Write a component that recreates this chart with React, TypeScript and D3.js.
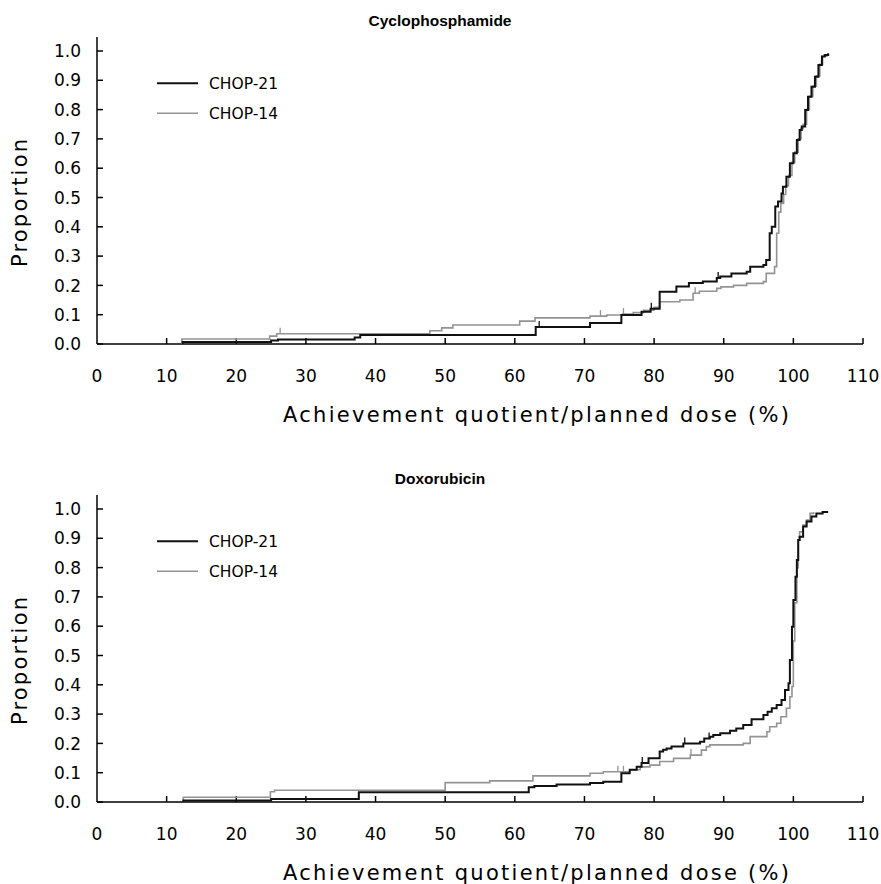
import React from "react";
import * as d3 from "d3";

// ---- Data ----
const xTicks = [0, 10, 20, 30, 40, 50, 60, 70, 80, 90, 100, 110];
const yTicks = [0, 0.1, 0.2, 0.3, 0.4, 0.5, 0.6, 0.7, 0.8, 0.9, 1.0];
const seriesNames = ["CHOP-21", "CHOP-14"];
const panelTitles = ["Cyclophosphamide", "Doxorubicin"];

// Cyclophosphamide, CHOP-21 (black)
const cyc21X = [12.3, 25, 26, 37, 37.8, 63, 70.8, 75.3, 78.2, 79.5, 80.8, 83.2, 85, 87, 89, 89.5, 91.1, 93.3, 93.8, 95.7, 96.1, 96.6, 96.9, 97.4, 97.8, 98.3, 98.5, 99.0, 99.5, 100.0, 100.5, 100.9, 101.2, 101.7, 102.1, 102.6, 103.1, 103.6, 104.1, 104.5, 105.0];
const cyc21Y = [0.007, 0.012, 0.015, 0.022, 0.031, 0.058, 0.072, 0.099, 0.11, 0.12, 0.178, 0.196, 0.208, 0.213, 0.225, 0.23, 0.241, 0.247, 0.264, 0.27, 0.287, 0.378, 0.4, 0.469, 0.486, 0.514, 0.537, 0.571, 0.617, 0.651, 0.696, 0.73, 0.742, 0.799, 0.844, 0.878, 0.912, 0.952, 0.981, 0.986, 0.992];
const cyc21Censor = [63.5, 79.6, 89.2];

// Cyclophosphamide, CHOP-14 (grey)
const cyc14X = [12.2, 24.8, 25.8, 47.8, 49.5, 51.1, 60.7, 62.9, 70.8, 73.2, 75.5, 77, 78.5, 80, 80.8, 83.7, 85.6, 86.5, 89, 89.6, 91.4, 93.3, 95.7, 96.1, 97.3, 97.6, 97.9, 98.2, 98.6, 98.9, 99.3, 99.8, 100.2, 100.7, 101.1, 101.4, 101.9, 102.3, 102.8, 103.3, 103.8, 104.2, 104.8];
const cyc14Y = [0.017, 0.027, 0.035, 0.045, 0.055, 0.065, 0.078, 0.089, 0.095, 0.099, 0.102, 0.107, 0.115, 0.125, 0.144, 0.15, 0.173, 0.18, 0.19, 0.195, 0.2, 0.207, 0.213, 0.241, 0.264, 0.378, 0.45, 0.48, 0.51, 0.54, 0.575, 0.62, 0.655, 0.7, 0.735, 0.75, 0.8, 0.845, 0.88, 0.915, 0.955, 0.982, 0.99];
const cyc14Censor = [26.3, 72.3, 75.6, 85.9];

// Doxorubicin, CHOP-21 (black)
const dox21X = [12.4, 25, 37.6, 62, 62.8, 66, 70.8, 72.7, 75.3, 76.5, 77.5, 78.2, 79.2, 80.8, 81.3, 81.8, 82.5, 84.2, 86.6, 87.2, 88, 88.5, 89.5, 90.9, 91.8, 92.8, 94, 95.7, 96.3, 96.9, 97.6, 98.3, 98.8, 99.3, 99.5, 99.8, 100.0, 100.3, 100.5, 100.7, 100.9, 101.4, 101.9, 102.6, 103.3, 104.2, 105];
const dox21Y = [0.005, 0.01, 0.033, 0.05, 0.055, 0.06, 0.065, 0.069, 0.098, 0.11, 0.12, 0.133, 0.149, 0.172, 0.178, 0.183, 0.189, 0.2, 0.206, 0.217, 0.223, 0.229, 0.235, 0.243, 0.251, 0.263, 0.282, 0.297, 0.308, 0.32, 0.331, 0.348, 0.382, 0.405, 0.485, 0.598, 0.689, 0.769, 0.826, 0.894, 0.905, 0.94, 0.957, 0.974, 0.985, 0.99, 0.99];
const dox21Censor = [78.3, 84.4, 87.9];

// Doxorubicin, CHOP-14 (grey)
const dox14X = [12.4, 24.9, 25.5, 50, 56.4, 62.6, 70.8, 72.7, 76.5, 78, 79.4, 80.8, 82.8, 85.2, 86.8, 87.5, 88, 92.8, 93.8, 96.2, 96.6, 97.6, 98.2, 99, 99.5, 99.8, 100.0, 100.2, 100.5, 100.7, 100.9, 101.4, 101.9, 102.4, 102.9];
const dox14Y = [0.016, 0.035, 0.04, 0.066, 0.072, 0.089, 0.098, 0.103, 0.11, 0.12, 0.126, 0.138, 0.149, 0.16, 0.177, 0.189, 0.195, 0.2, 0.223, 0.24, 0.257, 0.269, 0.291, 0.32, 0.359, 0.394, 0.55, 0.68, 0.8, 0.894, 0.922, 0.945, 0.962, 0.985, 0.99];
const dox14Censor = [74.8, 75.6, 85.3];

// ---- Layout ----
const W = 881;
const H = 884;
const FONT = "'DejaVu Sans', 'Liberation Sans', sans-serif";
const TITLE_FONT = "'Liberation Sans', Arial, sans-serif";
const BLACK = "#111";
const GREY = "#939393";

type Curve = { xs: number[]; ys: number[]; censor: number[]; color: string; width: number };

function stepValue(xs: number[], ys: number[], x: number) {
  let v = 0;
  for (let i = 0; i < xs.length; i++) if (xs[i] <= x) v = ys[i];
  return v;
}

function Panel({ top, title, curves }: { top: number; title: string; curves: Curve[] }) {
  const x = d3.scaleLinear().domain([0, 110]).range([97, 863]);
  const y = d3.scaleLinear().domain([0, 1]).range([top + 293, top]);
  const line = d3
    .line<[number, number]>()
    .x((d) => x(d[0]))
    .y((d) => y(d[1]))
    .curve(d3.curveStepAfter);
  const y0 = y(0);
  return (
    <g>
      <text x={440} y={top - 25} textAnchor="middle" fontFamily={TITLE_FONT} fontWeight="bold" fontSize={15.5}>
        {title}
      </text>
      {/* axes */}
      <line x1={x(0)} x2={x(0)} y1={top - 14} y2={y0} stroke="#000" strokeWidth={1.5} />
      <line x1={x(0)} x2={x(110)} y1={y0} y2={y0} stroke="#000" strokeWidth={1.5} />
      {yTicks.map((t) => (
        <g key={"y" + t}>
          <line x1={x(0)} x2={x(0) + 6} y1={y(t)} y2={y(t)} stroke="#000" strokeWidth={1.5} />
          <text x={81} y={y(t)} dy="0.36em" textAnchor="end" fontFamily={FONT} fontSize={17}>
            {t.toFixed(1)}
          </text>
        </g>
      ))}
      {xTicks.map((t) => (
        <g key={"x" + t}>
          {t > 0 && <line x1={x(t)} x2={x(t)} y1={y0} y2={y0 - 6} stroke="#000" strokeWidth={1.5} />}
          <text x={x(t)} y={y0 + 38} textAnchor="middle" fontFamily={FONT} fontSize={17}>
            {t}
          </text>
        </g>
      ))}
      <text
        transform={`translate(27,${top + 152}) rotate(-90)`}
        textAnchor="middle"
        fontFamily={FONT}
        fontSize={21}
        textLength={128}
        lengthAdjust="spacing"
      >
        Proportion
      </text>
      <text x={283} y={y0 + 78} fontFamily={FONT} fontSize={21} textLength={506} lengthAdjust="spacing">
        Achievement quotient/planned dose (%)
      </text>
      {/* legend */}
      {seriesNames.map((n, i) => (
        <g key={n}>
          <line
            x1={157}
            x2={198}
            y1={y(0.9) + 3 + i * 30}
            y2={y(0.9) + 3 + i * 30}
            stroke={curves[i].color}
            strokeWidth={curves[i].width}
          />
          <text x={209} y={y(0.9) + 3 + i * 30} dy="0.36em" fontFamily={FONT} fontSize={15.5}>
            {n}
          </text>
        </g>
      ))}
      {/* curves: grey first then black */}
      {[curves[1], curves[0]].map((c, k) => {
        const pts: [number, number][] = c.xs.map((v, i) => [v, c.ys[i]]);
        pts.unshift([c.xs[0], 0]);
        return (
          <g key={k}>
            <path d={line(pts) || ""} fill="none" stroke={c.color} strokeWidth={c.width} />
            {c.censor.map((cx) => {
              const v = stepValue(c.xs, c.ys, cx);
              return (
                <line
                  key={cx}
                  x1={x(cx)}
                  x2={x(cx)}
                  y1={y(v)}
                  y2={y(v) - 6}
                  stroke={c.color}
                  strokeWidth={1.3}
                />
              );
            })}
          </g>
        );
      })}
    </g>
  );
}

export default function App() {
  return (
    <svg width={W} height={H} style={{ display: "block", position: "absolute", left: 0, top: 0, background: "#fff" }}>
      <rect width={W} height={H} fill="#fff" />
      <Panel
        top={51}
        title={panelTitles[0]}
        curves={[
          { xs: cyc21X, ys: cyc21Y, censor: cyc21Censor, color: BLACK, width: 2 },
          { xs: cyc14X, ys: cyc14Y, censor: cyc14Censor, color: GREY, width: 1.6 },
        ]}
      />
      <Panel
        top={509}
        title={panelTitles[1]}
        curves={[
          { xs: dox21X, ys: dox21Y, censor: dox21Censor, color: BLACK, width: 2 },
          { xs: dox14X, ys: dox14Y, censor: dox14Censor, color: GREY, width: 1.6 },
        ]}
      />
    </svg>
  );
}
